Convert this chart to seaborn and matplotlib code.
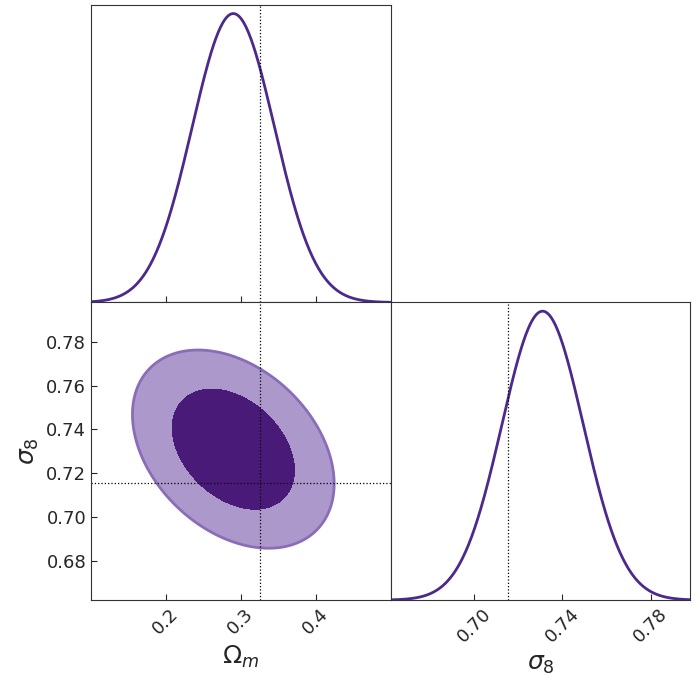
import numpy as np
import pandas as pd
import matplotlib
matplotlib.use("Agg")
import matplotlib.pyplot as plt
import seaborn as sns

sns.set_style("ticks")
plt.rcParams['font.family'] = ['DejaVu Sans']

params = ["Omega_m", "sigma_8"]
means = [0.290, 0.731]
sigmas = [0.055, 0.0185]
corr = -0.35
markers = [0.325, 0.7155]
ranges = [(0.1, 0.5), (0.662, 0.798)]
om_ticks = [0.2, 0.3, 0.4]
s8_ticks = [0.70, 0.74, 0.78]
s8_yticks = [0.68, 0.70, 0.72, 0.74, 0.76, 0.78]

line_c = "#4b2a8c"
dark_c = "#4a1a78"
light_c = "#ad98cb"
edge_c = "#8a6db8"

fig = plt.figure(figsize=(7, 6.97), dpi=100)
L, R, B, T = 0.13, 0.986, 0.139, 0.993
w = (R - L) / 2; h = (T - B) / 2
ax_top = fig.add_axes([L, B + h, w, h])
ax_2d = fig.add_axes([L, B, w, h])
ax_r = fig.add_axes([L + w, B, w, h])

def gauss(x, m, s):
    return np.exp(-0.5 * ((x - m) / s) ** 2)

x1 = np.linspace(*ranges[0], 400)
df1 = pd.DataFrame({"x": x1, "p": gauss(x1, means[0], sigmas[0])})
sns.lineplot(data=df1, x="x", y="p", ax=ax_top, color=line_c, lw=2)
ax_top.set_xlim(ranges[0]); ax_top.set_ylim(0, 1.03)
ax_top.axvline(markers[0], color="k", ls=":", lw=0.9)
ax_top.set_xticks(om_ticks); ax_top.set_xticklabels([])
ax_top.set_yticks([]); ax_top.set_xlabel(""); ax_top.set_ylabel("")

x2 = np.linspace(*ranges[1], 400)
df2 = pd.DataFrame({"x": x2, "p": gauss(x2, means[1], sigmas[1])})
sns.lineplot(data=df2, x="x", y="p", ax=ax_r, color=line_c, lw=2)
ax_r.set_xlim(ranges[1]); ax_r.set_ylim(0, 1.03)
ax_r.axvline(markers[1], color="k", ls=":", lw=0.9)
ax_r.set_xticks(s8_ticks); ax_r.set_xticklabels(["0.70", "0.74", "0.78"], rotation=45, fontsize=13)
ax_r.set_yticks([]); ax_r.set_ylabel("")
ax_r.set_xlabel(r"$\sigma_8$", fontsize=18)

# 2D
gx, gy = np.meshgrid(np.linspace(*ranges[0], 300), np.linspace(*ranges[1], 300))
u = (gx - means[0]) / sigmas[0]; v = (gy - means[1]) / sigmas[1]
q = (u**2 - 2*corr*u*v + v**2) / (1 - corr**2)
lev68 = -2*np.log(1 - 0.68); lev95 = -2*np.log(1 - 0.95)
ax_2d.contourf(gx, gy, q, levels=[0, lev68], colors=[dark_c])
ax_2d.contourf(gx, gy, q, levels=[lev68, lev95], colors=[light_c])
ax_2d.contour(gx, gy, q, levels=[lev95], colors=[edge_c], linewidths=2)
ax_2d.axvline(markers[0], color="k", ls=":", lw=0.9)
ax_2d.axhline(markers[1], color="k", ls=":", lw=0.9)
ax_2d.set_xlim(ranges[0]); ax_2d.set_ylim(ranges[1])
ax_2d.set_xticks(om_ticks); ax_2d.set_xticklabels(["0.2", "0.3", "0.4"], rotation=45, fontsize=13)
ax_2d.set_yticks(s8_yticks); ax_2d.set_yticklabels([f"{t:.2f}" for t in s8_yticks], fontsize=13)
ax_2d.set_xlabel(r"$\Omega_m$", fontsize=18)
ax_2d.set_ylabel(r"$\sigma_8$", fontsize=18)

for a in (ax_top, ax_2d, ax_r):
    for s in a.spines.values():
        s.set_visible(True); s.set_color("#333333")
    a.tick_params(direction="in", length=4)

fig.savefig("out.png", dpi=100)
